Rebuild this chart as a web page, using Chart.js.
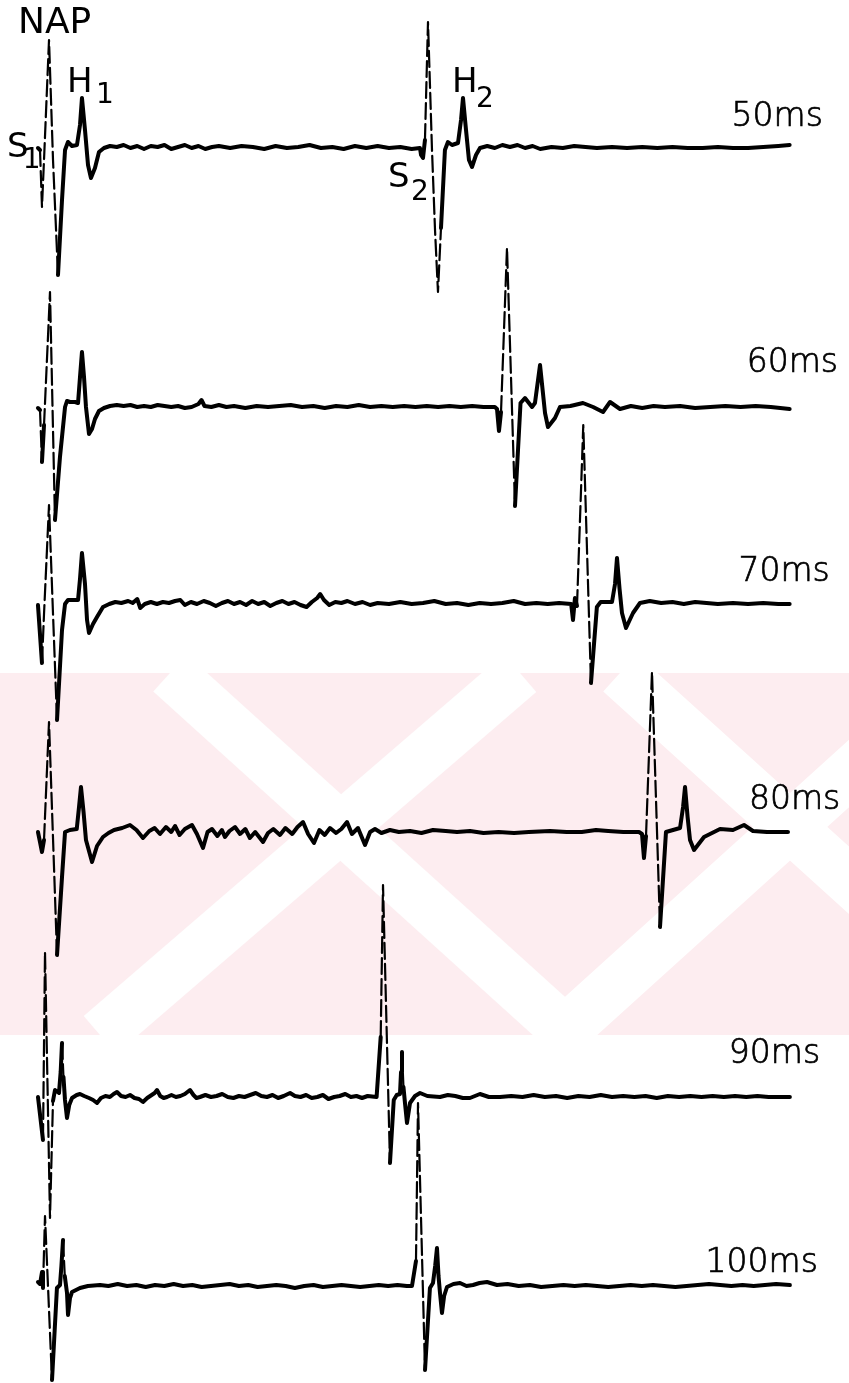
<!DOCTYPE html>
<html lang="en">
<head>
<meta charset="UTF-8" />
<title>NAP - paired stimuli</title>
<style>
  body { margin: 0; background: #fff; }
  #wrap { position: relative; width: 849px; height: 1383px; }
</style>
</head>
<body>
<div id="wrap"><canvas id="nap"></canvas></div>
<script src="https://cdn.jsdelivr.net/npm/chart.js"></script>
<script>
// interstimulus intervals, one sweep each (top to bottom)
const intervals = ["50ms", "60ms", "70ms", "80ms", "90ms", "100ms"];

// [time after S1 (ms), amplitude (a.u., up = positive)]
const trace50 = [
  [-0.93,0],[-0.66,-2],[-0.40,-59],[-0.13,-12],[0.53,108],[1.06,-12],[1.72,-127],[2.25,-52],[2.65,-2],
  [3.04,6],[3.57,2],[4.23,3],[4.63,23],[4.89,50],[5.29,18],[5.69,-17],[6.08,-30],[6.61,-20],[7.14,-4],[7.8,0],
  [8.6,2],[9.5,1],[10.4,3],[11.3,0],[12.2,2],[13.1,-1],[14.0,2],[14.9,1],[15.8,3],[16.7,-1],[17.6,1],[18.5,3],
  [19.4,0],[20.3,2],[21.2,-1],[22.1,1],[23.0,2],[24.5,0],[26.0,2],[27.5,1],[29.0,-1],[30.5,2],[32.0,0],[33.5,1],
  [35.0,3],[36.5,0],[38.0,1],[39.5,-1],[41.0,2],[42.5,0],[44.0,2],[45.5,0],[47.0,1],[48.5,-1],[49.6,0],
  [49.74,-7],[50.0,-10],[50.26,8],[50.66,126],[51.19,-2],[51.59,-82],[51.98,-144],[52.38,-80],[52.9,-2],
  [53.3,6],[53.84,3],[54.63,5],[55.03,28],[55.29,50],[55.69,18],[56.08,-12],[56.48,-19],[57.01,-7],[57.54,0],
  [58.5,2],[59.5,0],[60.5,3],[61.5,1],[62.5,3],[63.5,0],[64.5,2],[65.5,-1],[67,1],[68.5,0],[70,2],[71.5,1],
  [73,0],[75,1],[77,0],[79,1],[81,0],[83,1],[85,0],[87,0],[89,1],[91,0],[93,0],[95,1],[97,2],[98.5,3]
];
const trace60 = [
  [-0.93,-1],[-0.66,-3],[-0.40,-55],[-0.13,-18],[0.66,115],[1.32,-113],[1.98,-50],[2.65,0],[2.91,6],[3.31,5],
  [3.97,5],[4.37,4],[4.63,30],[4.89,55],[5.16,30],[5.42,0],[5.82,-27],[6.22,-22],[6.61,-12],[7.14,-4],[7.8,-1],
  [8.6,1],[9.5,2],[10.4,1],[11.3,2],[12.2,0],[13.1,1],[14.0,0],[14.9,2],[15.8,1],[16.7,0],[17.6,1],[18.5,-1],
  [19.4,0],[20.3,3],[20.7,7],[21.1,1],[22.0,0],[23.0,2],[24.0,0],[25.0,1],[26.5,-1],[28,1],[29.5,0],[31,1],
  [32.5,2],[34,0],[35.5,1],[37,-1],[38.5,1],[40,0],[41.5,2],[43,0],[44.5,1],[46,0],[47.5,1],[49,0],[50.5,1],
  [52,0],[53.5,1],[55,0],[56.5,1],[58,0],[59.5,0],
  [59.79,-2],[60.05,-24],[60.32,-5],[61.11,159],[62.17,-99],[62.9,4],[63.49,9],[64.42,0],[64.81,4],[65.48,42],
  [66.14,-6],[66.53,-20],[67.46,-11],[68.12,0],[69.5,1],[71.16,4],[72.5,0],[73.81,-5],[74.74,5],[76.06,-2],
  [77.5,1],[79,-1],[80.5,1],[82,0],[84,1],[86,-1],[88,0],[90,1],[92,0],[94,1],[96,0],[98.5,-2]
];
const trace70 = [
  [-0.93,-1],[-0.40,-59],[-0.13,-10],[0.53,99],[1.06,-10],[1.59,-116],[2.25,-26],[2.65,0],[3.04,4],[4.37,4],
  [4.63,25],[4.89,51],[5.29,20],[5.56,-16],[5.82,-29],[6.35,-20],[6.88,-13],[7.67,-3],
  [8.5,0],[9.3,2],[10.1,1],[11.0,3],[11.6,1],[12.2,5],[12.6,-4],[13.2,0],[14.0,2],[14.8,0],[15.6,2],[16.4,1],
  [17.2,3],[17.9,4],[18.5,-1],[19.3,2],[20.1,0],[21.0,3],[21.8,1],[22.6,-2],[23.4,1],[24.2,3],[25.0,0],[25.8,2],
  [26.6,-1],[27.4,3],[28.2,0],[29.0,2],[29.8,-2],[30.6,1],[31.4,3],[32.2,0],[33.0,2],[33.8,-1],[34.6,-3],
  [35.3,2],[36.0,6],[36.4,10],[36.9,4],[37.6,-1],[38.4,2],[39.2,1],[40.0,3],[41.0,0],[42.0,2],[43.0,-1],
  [44.0,1],[45.5,0],[47.0,2],[48.5,0],[50.0,1],[51.5,3],[53.0,0],[54.5,1],[56.0,-1],[57.5,1],[59.0,0],
  [60.5,1],[62.0,3],[63.5,0],[65.0,1],[66.5,0],[68.0,1],[69.6,0],
  [69.84,-16],[70.1,6],[70.37,-2],[71.2,179],[72.22,-79],[73.0,-3],[73.5,2],[75.0,2],[75.4,20],[75.66,46],
  [76.0,15],[76.32,-9],[76.85,-24],[77.78,-9],[78.7,1],[80.0,3],[81.5,1],[83,2],[84.5,0],[86,2],[87.5,1],
  [89,0],[91,1],[93,0],[95,1],[97,0],[98.5,0]
];
const trace80 = [
  [-0.93,0],[-0.66,-10],[-0.40,-20],[-0.13,-8],[0.53,110],[1.59,-123],[2.25,-45],[2.65,0],[3.3,2],[4.2,3],
  [4.5,25],[4.76,45],[5.1,20],[5.42,-8],[6.22,-30],[6.88,-14],[7.67,-5],[8.4,-1],[9.13,2],[10.2,4],[11.24,7],
  [12.1,2],[12.96,-6],[13.8,1],[14.5,4],[15.21,-2],[16.0,5],[16.7,0],[17.2,6],[17.8,-3],[18.5,3],[19.44,7],
  [20.1,-2],[20.9,-16],[21.5,0],[22.09,3],[22.8,-4],[23.4,2],[23.8,-5],[24.4,1],[25.13,5],[25.8,-2],[26.5,3],
  [27.1,-6],[27.8,0],[28.84,-10],[29.5,-1],[30.2,3],[31.08,-3],[31.8,4],[32.7,-2],[33.4,5],[34.13,10],
  [34.8,-2],[35.58,-11],[36.3,2],[37.0,-3],[37.7,4],[38.5,-1],[39.2,3],[39.95,10],[40.6,-2],[41.4,4],
  [42.33,-13],[43.0,0],[43.65,3],[44.5,-1],[45.63,2],[46.8,0],[48.28,1],[49.8,-1],[51.32,2],[53,1],[54.5,0],
  [56.22,1],[58,-1],[60,0],[62.04,-1],[64,0],[66.8,1],[69,0],[71,0],[72.88,2],[74.5,1],[76.5,0],[78.57,0],
  [78.97,-2],[79.23,-26],[79.5,-4],[80.29,160],[81.35,-95],[82.14,0],[84.0,4],[84.4,25],[84.66,45],[85.0,15],
  [85.32,-8],[85.85,-18],[87.17,-5],[89.29,3],[91,2],[92.46,7],[93.65,1],[95.5,0],[98.28,0]
];
// the last two sweeps were run at half the sweep speed
const trace90 = [
  [-1.88,0],[-0.54,-43],[0,145],[1.34,-121],[2.14,-4],[2.68,7],[3.75,4],[4.2,25],[4.56,54],[4.95,20],[5.36,-3],
  [5.9,-21],[6.5,-8],[7.24,-1],[8.5,2],[9.38,3],[10.5,1],[11.8,-1],[12.9,-3],[13.94,-6],[15.0,-1],[16.2,1],
  [17.4,0],[18.4,3],[19.3,5],[20.4,1],[21.6,0],[22.8,2],[24.0,-1],[25.2,-2],[26.27,-5],[27.4,-1],[28.6,2],
  [29.4,4],[30.03,7],[30.9,1],[31.8,-1],[32.71,0],[33.9,2],[35.1,0],[36.3,1],[37.5,3],[38.87,7],[39.8,2],
  [40.6,-1],[41.55,0],[43,2],[44.5,0],[46,1],[47.5,3],[49,0],[50.5,-1],[52,1],[53.5,0],[55,2],[56.5,4],[58,1],
  [59.5,0],[61,2],[62.5,-1],[64,1],[65.7,4],[67,1],[68.5,0],[70,2],[71.5,-1],[73,0],[74.5,2],[76,-2],[77.5,0],
  [79,1],[80.5,3],[82,0],[83.5,1],[85,-1],[86.5,1],[88.9,0],
  [90.0,60],[90.62,212],[92.49,-66],[93.5,-3],[94.3,2],[95.17,3],[95.45,25],[95.71,45],[96.1,10],[96.51,-6],
  [97.05,-26],[97.86,-6],[99.2,1],[100.54,4],[102.5,1],[105.9,0],[108,2],[110,1],[112,-1],[113.94,-1],
  [116.6,3],[119,0],[121.98,0],[125,1],[128,0],[131,2],[134,0],[137,1],[140,-1],[143,1],[146,0],[149,2],
  [152,0],[155,1],[158,0],[161,1],[164,-1],[167,1],[170,0],[173,1],[176,0],[179,1],[182,0],[185,1],[188,0],
  [191,1],[194,0],[197,0],[199.7,0]
];
const trace100 = [
  [-1.88,4],[-1.34,2],[-0.8,14],[-0.54,-2],[0,70],[1.88,-94],[3.2,-2],[4.02,1],[4.4,20],[4.83,46],[5.3,10],
  [5.9,-7],[6.17,-29],[6.7,-12],[7.24,-6],[9.38,-2],[11.5,0],[14.75,1],[17,0],[19.5,2],[22,0],[24.5,1],
  [27,-1],[29.5,1],[32,0],[34.5,2],[37,0],[39.5,1],[42,-1],[44.5,0],[47,1],[49.5,2],[52,0],[54.5,1],[57,-1],
  [59.5,0],[62,1],[64.5,0],[67,-2],[69.5,0],[72,1],[74.5,-1],[77,0],[79.5,1],[82,0],[84.5,-1],[87,0],
  [89.5,1],[92,0],[94.5,1],[97,0],[98.39,0],
  [99.46,25],[100.0,183],[101.88,-84],[103.2,-2],[104.02,3],[104.6,20],[105.09,38],[105.5,10],[105.9,-7],
  [106.43,-27],[107.0,-10],[107.77,-1],[109.5,2],[111.26,3],[113,0],[114.75,1],[116.5,3],[118.5,4],[121.18,1],
  [124,2],[127,0],[130,1],[133,-1],[136,0],[139,1],[142,0],[145,1],[148,0],[151,-1],[154,0],[157,1],[160,0],
  [163,1],[166,0],[169,-1],[172,0],[175,1],[178,2],[181,1],[184,0],[187,1],[190,0],[193,1],[196,2],[199.7,1]
];
const traces = [trace50, trace60, trace70, trace80, trace90, trace100];
const fastSweep = [true, true, true, true, false, false];

// ---- layout (pixels in the 849x1383 figure) ----
const W = 849, H = 1383;
const rowZero = [148, 407, 604, 832, 1097, 1286];   // baseline of each sweep
const s1px = 45;                                     // S1 position
const pxPerMs = { x: 7.56, x2: 3.73 };

const scales = {
  x:  { type: 'linear', display: false, min: -s1px / pxPerMs.x,  max: (W - s1px) / pxPerMs.x },
  x2: { type: 'linear', display: false, min: -s1px / pxPerMs.x2, max: (W - s1px) / pxPerMs.x2 }
};
rowZero.forEach((r, i) => {
  scales['y' + (i + 1)] = { type: 'linear', display: false, position: 'left', min: r - H, max: r };
});

// thin dashed pen for the fast strokes (stimulus artefacts)
const isFast = c => {
  const dx = Math.abs(c.p1.x - c.p0.x), dy = Math.abs(c.p1.y - c.p0.y);
  return dy > 30 && dy / Math.max(dx, 0.5) > 20;
};

const datasets = traces.map((d, i) => ({
  label: intervals[i],
  data: d,
  xAxisID: fastSweep[i] ? 'x' : 'x2',
  yAxisID: 'y' + (i + 1),
  borderColor: '#000',
  borderWidth: 4,
  borderJoinStyle: 'round',
  borderCapStyle: 'round',
  pointRadius: 0,
  tension: 0,
  segment: {
    borderWidth: c => isFast(c) ? 2.2 : undefined,
    borderDash: c => isFast(c) ? [16, 5] : undefined
  }
}));

// text marks: [text, sweep, time, amplitude, font px]
const marks = [
  ['NAP', 0, -3.57, 115, 36],
  ['H', 0, 2.91, 56, 34], ['1', 0, 6.75, 45, 28],
  ['S', 0, -5.03, -9, 34], ['1', 0, -2.95, -20, 28],
  ['S', 0, 45.37, -39, 34], ['2', 0, 48.4, -52, 28],
  ['H', 0, 53.84, 56, 34], ['2', 0, 57.0, 41, 28]
];
// interval labels, right aligned: [time at right edge, amplitude of text baseline]
const intervalPos = [[102.9, 22], [104.9, 35], [103.8, 23], [105.2, 23], [207.8, 34], [207.2, 14]];

const textPlugin = {
  id: 'napText',
  afterDatasetsDraw(chart) {
    const ctx = chart.ctx;
    ctx.save();
    ctx.fillStyle = '#000';
    ctx.strokeStyle = '#000';
    ctx.textBaseline = 'alphabetic';
    ctx.textAlign = 'left';
    marks.forEach(([txt, i, t, v, size]) => {
      const xs = chart.scales[datasets[i].xAxisID], ys = chart.scales['y' + (i + 1)];
      ctx.font = size + 'px "DejaVu Sans"';
      ctx.fillText(txt, xs.getPixelForValue(t), ys.getPixelForValue(v));
    });
    ctx.textAlign = 'right';
    ctx.font = '200 33px "DejaVu Sans"';
    ctx.lineWidth = 0.7;
    intervals.forEach((lab, i) => {
      const xs = chart.scales[datasets[i].xAxisID], ys = chart.scales['y' + (i + 1)];
      const px = xs.getPixelForValue(intervalPos[i][0]), py = ys.getPixelForValue(intervalPos[i][1]);
      ctx.fillText(lab, px, py);
      ctx.strokeText(lab, px, py);
    });
    ctx.restore();
  }
};

// faint pink watermark band behind the sweeps
const stamp = {
  id: 'stamp',
  beforeDraw(chart) {
    const ctx = chart.ctx, top = 673, bottom = 1035;
    ctx.save();
    ctx.fillStyle = '#fdedf0';
    ctx.fillRect(0, top, W, bottom - top);
    ctx.beginPath();
    ctx.rect(0, top, W, bottom - top);
    ctx.clip();
    ctx.strokeStyle = '#fff';
    ctx.lineWidth = 50;
    [[170, 673, 570, 1035], [520, 673, 100, 1035], [620, 673, 1020, 1035], [960, 673, 560, 1035]].forEach(s => {
      ctx.beginPath();
      ctx.moveTo(s[0], s[1]);
      ctx.lineTo(s[2], s[3]);
      ctx.stroke();
    });
    ctx.restore();
  }
};

new Chart(document.getElementById('nap'), {
  type: 'line',
  data: { datasets },
  options: {
    responsive: true,
    maintainAspectRatio: false,
    animation: false,
    events: [],
    layout: { padding: 0 },
    scales,
    plugins: { legend: { display: false }, tooltip: { enabled: false } }
  },
  plugins: [stamp, textPlugin]
});
</script>
</body>
</html>
